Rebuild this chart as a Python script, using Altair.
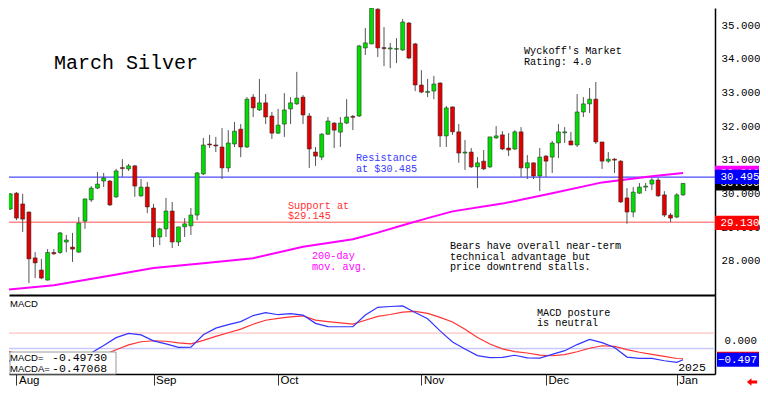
import altair as alt
import pandas as pd

# ---------------- data ----------------
# daily candles, trading-day index 0 = Jul 30 2024 ... 109 = Jan 3 2025
opens = [28.83, 29.54, 30.01, 29.69, 29.45, 28.09, 27.73, 27.43, 28.25, 28.25,
         28.56, 28.41, 28.26, 29.18, 29.81, 30.16, 30.37, 30.37, 29.90, 30.77,
         30.73, 30.82, 29.93, 30.19, 29.57, 28.71, 28.95, 29.48, 28.56, 29.01,
         29.04, 29.36, 30.58, 31.47, 31.44, 31.38, 30.76, 31.47, 31.91, 31.38,
         32.86, 32.48, 32.69, 32.30, 31.79, 32.06, 32.51, 32.66, 32.86, 32.30,
         31.23, 31.08, 31.76, 32.09, 31.82, 32.09, 32.29, 32.30, 34.32, 34.44,
         35.47, 34.33, 34.29, 34.28, 34.26, 35.06, 34.44, 33.22, 33.00, 33.04,
         33.28, 31.71, 32.57, 31.83, 31.20, 31.23, 30.79, 30.96, 30.79, 31.65,
         31.74, 31.35, 31.32, 31.83, 30.76, 30.91, 30.52, 31.11, 31.08, 31.50,
         31.80, 31.56, 31.44, 32.42, 32.66, 32.80, 31.53, 30.96, 31.02, 30.96,
         29.87, 29.45, 30.01, 30.19, 30.28, 30.40, 29.96, 29.36, 29.30, 29.96]
highs = [29.36, 30.01, 30.04, 29.99, 29.47, 28.26, 28.06, 28.35, 28.35, 28.86,
         28.77, 28.83, 29.30, 29.85, 30.22, 30.64, 30.61, 30.40, 30.73, 31.02,
         30.88, 30.85, 30.43, 30.34, 29.69, 28.98, 29.87, 29.75, 29.01, 29.27,
         29.57, 30.64, 31.65, 31.74, 31.68, 31.94, 31.88, 32.12, 32.06, 32.86,
         32.95, 33.40, 32.95, 32.42, 32.51, 32.98, 32.86, 33.61, 32.92, 32.39,
         31.38, 31.79, 32.27, 32.12, 32.27, 32.80, 32.33, 34.41, 34.91, 35.53,
         35.50, 34.94, 34.47, 34.61, 35.18, 35.09, 34.47, 33.66, 33.40, 33.49,
         33.30, 32.60, 32.58, 32.06, 31.59, 31.35, 31.08, 31.29, 31.68, 32.00,
         31.85, 31.79, 31.88, 31.97, 31.14, 30.92, 31.35, 31.14, 31.56, 32.06,
         31.97, 31.83, 32.95, 32.86, 33.13, 33.31, 31.53, 31.23, 31.05, 30.99,
         30.16, 30.19, 30.31, 30.31, 30.46, 30.46, 30.07, 29.42, 30.01, 30.31]
lows = [28.77, 29.51, 29.21, 28.86, 27.34, 27.49, 27.46, 27.42, 28.18, 28.21,
        28.26, 27.97, 28.24, 28.95, 29.75, 30.13, 30.19, 29.63, 29.87, 30.49,
        30.67, 29.90, 29.90, 29.42, 28.41, 28.47, 28.71, 28.38, 28.44, 28.71,
        28.77, 29.21, 30.55, 31.35, 31.23, 30.43, 30.64, 31.38, 31.08, 31.35,
        32.27, 32.45, 32.06, 31.62, 31.77, 31.68, 32.06, 32.63, 32.06, 30.76,
        30.82, 30.99, 31.74, 31.35, 31.38, 32.06, 31.88, 32.27, 34.11, 34.43,
        34.05, 33.78, 33.72, 33.87, 34.23, 33.99, 33.04, 32.98, 32.86, 32.80,
        31.38, 31.38, 31.74, 30.91, 30.70, 30.76, 30.16, 30.70, 30.76, 31.62,
        31.29, 31.11, 31.29, 30.49, 30.43, 30.43, 30.07, 30.49, 30.61, 31.05,
        31.50, 31.43, 31.38, 32.27, 32.39, 31.47, 30.73, 30.91, 30.61, 29.72,
        29.10, 29.30, 29.99, 30.07, 30.10, 29.90, 29.30, 29.15, 29.27, 29.93]
closes = [29.33, 29.99, 29.27, 29.24, 28.06, 27.94, 27.49, 28.25, 28.21, 28.83,
          28.62, 28.35, 29.12, 29.84, 30.16, 30.28, 30.46, 29.66, 30.67, 30.74,
          30.82, 30.22, 30.19, 29.60, 28.71, 28.95, 29.48, 28.56, 29.01, 29.10,
          29.36, 30.61, 31.44, 31.44, 31.41, 30.76, 31.50, 31.85, 31.38, 32.80,
          32.54, 32.69, 32.27, 31.79, 32.03, 32.48, 32.69, 32.83, 32.33, 31.32,
          31.11, 31.76, 32.15, 31.88, 32.09, 32.27, 32.26, 34.38, 34.47, 35.50,
          34.32, 34.30, 34.32, 34.30, 35.09, 34.02, 33.22, 33.01, 33.03, 33.25,
          31.71, 32.54, 31.83, 31.20, 31.23, 30.79, 30.91, 30.73, 31.68, 31.71,
          31.32, 31.29, 31.83, 30.76, 30.91, 30.52, 31.08, 30.96, 31.50, 31.83,
          31.83, 31.44, 32.42, 32.66, 32.80, 31.53, 30.96, 31.02, 30.99, 29.75,
          29.45, 30.04, 30.19, 30.22, 30.40, 29.93, 29.36, 29.27, 29.96, 30.30]

# 200-day moving average (sampled)
ma_idx = [0, 8, 16, 24, 32, 40, 48, 56, 60, 64, 68, 72, 80, 88, 96, 104, 109]
ma_vals = [27.14, 27.28, 27.53, 27.79, 27.93, 28.08, 28.42, 28.64, 28.84, 29.06,
           29.27, 29.47, 29.70, 30.01, 30.33, 30.51, 30.611]

# MACD (blue) and MACD average (red), sampled every second day
macd_idx = list(range(0, 109, 2)) + [109]
macd_vals = [-0.48, -0.60, -0.78, -0.86, -0.82, -0.70, -0.52, -0.326, -0.135, 0.066,
             0.176, 0.135, -0.015, -0.092, -0.181, -0.178, 0.140, 0.308, 0.398, 0.474,
             0.629, 0.703, 0.650, 0.680, 0.642, 0.431, 0.349, 0.344, 0.344, 0.642,
             0.838, 0.859, 0.874, 0.706, 0.548, 0.240, -0.046, -0.224, -0.390, -0.443,
             -0.436, -0.382, -0.449, -0.454, -0.359, -0.265, -0.110, 0.023, -0.059, -0.186,
             -0.428, -0.461, -0.461, -0.522, -0.563, -0.497]
macda_vals = [-0.257, -0.341, -0.45, -0.56, -0.64, -0.66, -0.60, -0.50, -0.372, -0.240,
              -0.117, -0.038, -0.013, -0.025, -0.066, -0.092, -0.003, 0.097, 0.191, 0.285,
              0.408, 0.510, 0.558, 0.594, 0.622, 0.512, 0.474, 0.441, 0.413, 0.510,
              0.609, 0.655, 0.714, 0.734, 0.683, 0.581, 0.464, 0.278, 0.071, -0.097,
              -0.219, -0.288, -0.324, -0.380, -0.395, -0.364, -0.293, -0.204, -0.140, -0.155,
              -0.240, -0.306, -0.359, -0.408, -0.464, -0.471]

support_level = 29.145
resistance_level = 30.485
macd_upper_line = 0.183
macd_lower_line = -0.212

# right-edge value boxes (drawing order)
price_box_vals = [30.611, 30.300, 30.495, 29.130]
price_box_cols = ["#ff00ff", "#000000", "#0000ff", "#ff0000"]
macd_box_vals = [-0.471, -0.497]
macd_box_cols = ["#ff0000", "#0000ff"]

price_ticks = [28, 29, 30, 31, 32, 33, 34, 35]
month_idx = [2, 24, 44, 67, 87, 108]
month_labels = ["Aug", "Sep", "Oct", "Nov", "Dec", "Jan"]

# ---------------- chart ----------------
W, H1, H2 = 706, 287, 79
BOX_R = 750
MONO = "Liberation Mono"
SANS = "Liberation Sans"
AXF = 10.8

cdf = pd.DataFrame({"i": list(range(len(opens))), "o": opens, "h": highs, "l": lows, "c": closes})
madf = pd.DataFrame({"i": ma_idx, "v": ma_vals})
mdf = pd.DataFrame({"i": macd_idx, "m": macd_vals, "a": macda_vals})

xsc = alt.Scale(domain=[0.803, 114.13], nice=False, zero=False, padding=0)
ysc = alt.Scale(domain=[26.988, 35.505], nice=False, zero=False, padding=0)
msc = alt.Scale(domain=[-0.859, 1.152], nice=False, zero=False, padding=0)

xax_main = alt.Axis(labels=False, ticks=False, domain=True, domainColor="black",
                    domainWidth=2, grid=False, title=None)
yax_main = alt.Axis(orient="right", values=price_ticks, format=".3f", ticks=False, tickSize=0,
                    labelPadding=6, labelFont=MONO, labelFontSize=AXF, labelColor="black",
                    domainColor="black", domainWidth=1.5, grid=False, title=None)

expr = "''"
for v, lab in reversed(list(zip(month_idx, month_labels))):
    expr = f"datum.value == {v} ? '{lab}' : ({expr})"
xax_macd = alt.Axis(values=month_idx, labelExpr=expr, tickSize=11, tickColor="#333333",
                    tickWidth=1, domainColor="black", domainWidth=1.5, labelAlign="left",
                    labelBaseline="middle", labelPadding=-5, labelOffset=2, labelFont=SANS,
                    labelFontSize=11.5, labelColor="black", grid=False, title=None,
                    labelFlush=False, labelOverlap=False)
yax_macd = alt.Axis(orient="right", values=[0], format=".3f", ticks=False, tickSize=0,
                    labelPadding=9, labelFont=MONO, labelFontSize=AXF, labelColor="black",
                    domainColor="black", domainWidth=1.5, grid=False, title=None)


def X(f):
    return alt.X(f, type="quantitative", scale=xsc, axis=xax_main)


def Y(f):
    return alt.Y(f, type="quantitative", scale=ysc, axis=yax_main)


def XM(f):
    return alt.X(f, type="quantitative", scale=xsc, axis=xax_macd)


def YM(f):
    return alt.Y(f, type="quantitative", scale=msc, axis=yax_macd)


def note(s, x, y, color="black", size=10.2, font=MONO, align="left"):
    return alt.Chart(alt.Data(values=[{"t": s}])).mark_text(
        align=align, baseline="middle", font=font, fontSize=size, color=color
    ).encode(x=alt.value(x), y=alt.value(y), text=alt.Text("t:N"))


# --- main price panel ---
sup = alt.Chart(alt.Data(values=[{"v": support_level}])).mark_rule(
    color="#ff8a8a", strokeWidth=1.6).encode(y=Y("v"))
res = alt.Chart(alt.Data(values=[{"v": resistance_level}])).mark_rule(
    color="#4a4aff", strokeWidth=1.2).encode(y=Y("v"))
ma = alt.Chart(madf).mark_line(color="#ff00ff", strokeWidth=2, clip=True).encode(
    x=X("i"), y=Y("v"))
wicks = alt.Chart(cdf).mark_rule(color="#555555", strokeWidth=1, clip=True).encode(
    x=X("i"), y=Y("l"), y2="h")
bodies = alt.Chart(cdf).transform_calculate(
    dir="datum.c >= datum.o ? 'up' : 'down'"
).mark_bar(width=4, stroke="#222222", strokeWidth=0.5, clip=True).encode(
    x=X("i"), y=Y("o"), y2="c",
    color=alt.Color("dir:N", scale=alt.Scale(domain=["up", "down"], range=["#00dd00", "#e00000"]),
                    legend=None))

main_layers = [sup, res, ma, wicks, bodies,
               note("March Silver", 45, 54.5, size=20),
               note("Wyckoff's Market", 515, 43),
               note("Rating: 4.0", 515, 53.5),
               note("Resistance", 347, 150, color="#3a3aff"),
               note("at $30.485", 347, 160.5, color="#3a3aff"),
               note("Support at", 279, 197.5, color="#ff3030"),
               note("$29.145", 279, 208, color="#ff3030"),
               note("200-day", 303, 248, color="#ff00ff"),
               note("mov. avg.", 303, 258.5, color="#ff00ff"),
               note("Bears have overall near-term", 441, 238),
               note("technical advantage but", 441, 248.5),
               note("price downtrend stalls.", 441, 258.5)]

for v, col in zip(price_box_vals, price_box_cols):
    d = alt.Data(values=[{"v": v}])
    main_layers.append(alt.Chart(d).transform_calculate(
        lo="datum.v - 0.21", hi="datum.v + 0.21"
    ).mark_bar(color=col).encode(x=alt.value(706), x2=alt.value(BOX_R), y=Y("lo"), y2="hi"))
    main_layers.append(alt.Chart(d).mark_text(
        align="left", baseline="middle", font=MONO, fontSize=AXF, color="white"
    ).encode(x=alt.value(711.5), y=Y("v"), text=alt.Text("v:Q", format=".3f")))

main = alt.layer(*main_layers).properties(width=W, height=H1)

# --- MACD panel ---
up_line = alt.Chart(alt.Data(values=[{"v": macd_upper_line}])).mark_rule(
    color="#ffb4b4", strokeWidth=1).encode(y=YM("v"))
lo_line = alt.Chart(alt.Data(values=[{"v": macd_lower_line}])).mark_rule(
    color="#c8c8ff", strokeWidth=1.5).encode(y=YM("v"))
sig_line = alt.Chart(mdf).mark_line(color="#ff3333", strokeWidth=1.2, clip=True).encode(
    x=XM("i"), y=YM("a"))
macd_line = alt.Chart(mdf).mark_line(color="#3333ff", strokeWidth=1.2, clip=True).encode(
    x=XM("i"), y=YM("m"))
legend_box = alt.Chart(alt.Data(values=[{"k": 1}])).mark_bar(
    fill="white", stroke="#999999", strokeWidth=1).encode(
    x=alt.value(1), x2=alt.value(107), y=alt.value(H2 - 22), y2=alt.value(H2))
arrow = alt.Chart(alt.Data(values=[{"k": 1}])).mark_point(
    shape="M-1,0L-0.1,-0.75L-0.1,-0.3L1,-0.3L1,0.3L-0.1,0.3L-0.1,0.75Z",
    filled=True, color="#ff0000", opacity=1, size=105).encode(
    x=alt.value(743), y=alt.value(H2 + 8))

macd_layers = [up_line, lo_line, sig_line, macd_line, legend_box,
               note("MACD", 1, 9, font=SANS, size=9.5),
               note("MACD=", 1, H2 - 16, font=SANS, size=9.5),
               note("-0.49730", 43, H2 - 16, size=11.5),
               note("MACDA=", 1, H2 - 5.5, font=SANS, size=9.5),
               note("-0.47068", 43, H2 - 5.5, size=11.5),
               note("MACD posture", 528, 18),
               note("is neutral", 528, 28),
               note("2025", 683, H2 - 6, size=11.5, align="center"),
               arrow]

for v, col in zip(macd_box_vals, macd_box_cols):
    d = alt.Data(values=[{"v": v}])
    macd_layers.append(alt.Chart(d).transform_calculate(
        lo="datum.v - 0.18", hi="datum.v + 0.18"
    ).mark_bar(color=col).encode(x=alt.value(708), x2=alt.value(BOX_R), y=YM("lo"), y2="hi"))
    macd_layers.append(alt.Chart(d).mark_text(
        align="left", baseline="middle", font=MONO, fontSize=AXF, color="white"
    ).encode(x=alt.value(709), y=YM("v"), text=alt.Text("v:Q", format=".3f")))

macd = alt.layer(*macd_layers).properties(width=W, height=H2)

chart = alt.vconcat(main, macd, spacing=0).properties(
    padding=0, background="white"
).configure_view(stroke=None)

chart.save("out.html", embed_options={"renderer": "svg", "actions": False})
